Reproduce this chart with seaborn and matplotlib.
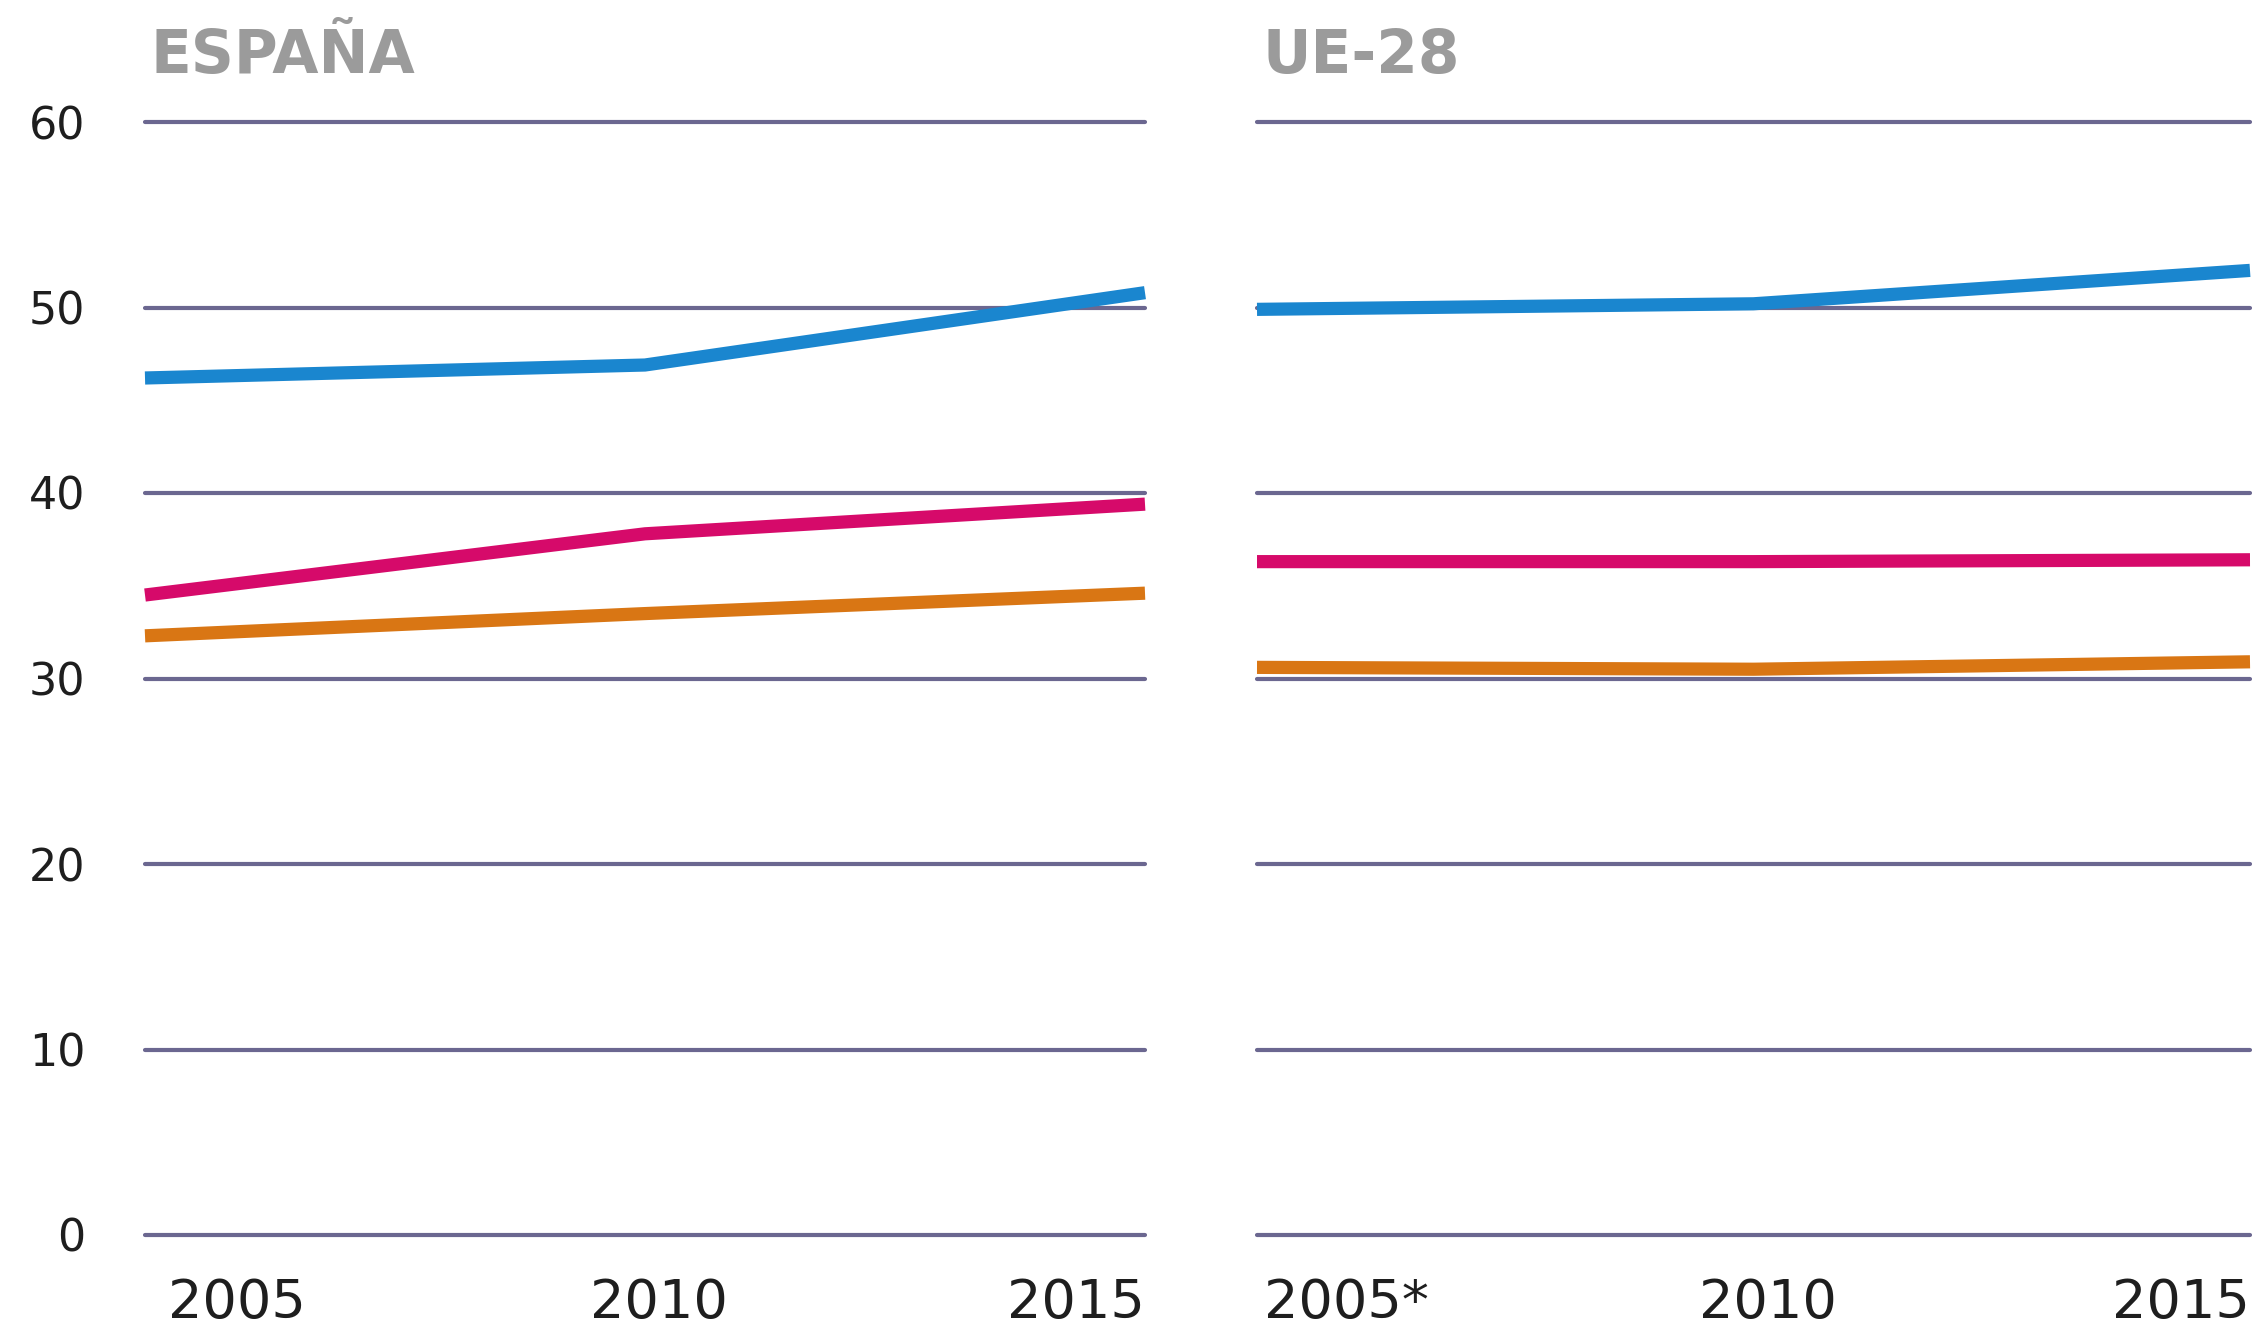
import pandas as pd
import seaborn as sns
import matplotlib.pyplot as plt
from matplotlib.transforms import ScaledTranslation

# Values
years = [2005, 2010, 2015]
year_labels_es = ["2005", "2010", "2015"]
year_labels_ue = ["2005*", "2010", "2015"]
y_ticks = [0, 10, 20, 30, 40, 50, 60]
series = ["azul", "rosa", "naranja"]

espana_azul = [46.2, 46.9, 50.8]
espana_rosa = [34.5, 37.8, 39.4]
espana_naranja = [32.3, 33.5, 34.6]

ue_azul = [49.9, 50.2, 52.0]
ue_rosa = [36.3, 36.3, 36.4]
ue_naranja = [30.6, 30.5, 30.9]

colors = ["#1a86cf", "#d60a6a", "#d97614"]
grid_color = "#6b6790"
title_color = "#9b9b9b"
text_color = "#1e1e1e"


def long_table(azul, rosa, naranja):
    rows = []
    for name, vals in zip(series, [azul, rosa, naranja]):
        for yr, v in zip(years, vals):
            rows.append({"year": yr, "value": v, "serie": name})
    return pd.DataFrame(rows)


df_es = long_table(espana_azul, espana_rosa, espana_naranja)
df_ue = long_table(ue_azul, ue_rosa, ue_naranja)

sns.set_style("white")
plt.rcParams["font.family"] = ["DejaVu Sans"]

W, H = 2258, 1326
fig = plt.figure(figsize=(W / 100, H / 100), dpi=100)
bottom = 1 - 1235 / H
height = (1235 - 122) / H
ax1 = fig.add_axes([145 / W, bottom, 1000 / W, height])
ax2 = fig.add_axes([1257 / W, bottom, 993 / W, height])

# (axes, data, tick labels, title, shift of first label in px)
panels = [(ax1, df_es, year_labels_es, "ESPAÑA", 23),
          (ax2, df_ue, year_labels_ue, "UE-28", 7)]
for ax, df, labels, title, first_shift in panels:
    sns.lineplot(data=df, x="year", y="value", hue="serie", hue_order=series,
                 palette=colors, linewidth=9.5, legend=False, ax=ax, zorder=3)
    for line in ax.lines:
        line.set_solid_capstyle("butt")
        line.set_clip_on(False)

    ax.set_xlim(years[0], years[-1])
    ax.set_ylim(y_ticks[0], y_ticks[-1])
    ax.set_yticks(y_ticks)
    ax.set_xticks(years)
    ax.set_xticklabels(labels)
    ax.set_xlabel("")
    ax.set_ylabel("")
    ax.set_axisbelow(True)
    ax.grid(axis="y", color=grid_color, linewidth=3)
    ax.grid(axis="x", visible=False)
    for gl in ax.get_ygridlines():
        gl.set_clip_on(False)
    sns.despine(ax=ax, left=True, bottom=True)

    ax.tick_params(axis="y", length=0, labelsize=32, pad=43, colors=text_color)
    ax.tick_params(axis="x", length=0, labelsize=39, pad=30, colors=text_color)
    xl = ax.get_xticklabels()
    xl[0].set_ha("left")
    xl[0].set_transform(xl[0].get_transform() + ScaledTranslation(first_shift / 100, 0, fig.dpi_scale_trans))
    xl[1].set_ha("center")
    xl[1].set_transform(xl[1].get_transform() + ScaledTranslation(14 / 100, 0, fig.dpi_scale_trans))
    xl[-1].set_ha("right")

    x0 = ax.get_position().x0
    fig.text(x0 + 6 / W, 1 - 73 / H, title, fontsize=43, fontweight="bold",
             color=title_color, va="baseline", ha="left")

ax2.tick_params(axis="y", labelleft=False)

fig.savefig("out.png", dpi=100, facecolor="white")
